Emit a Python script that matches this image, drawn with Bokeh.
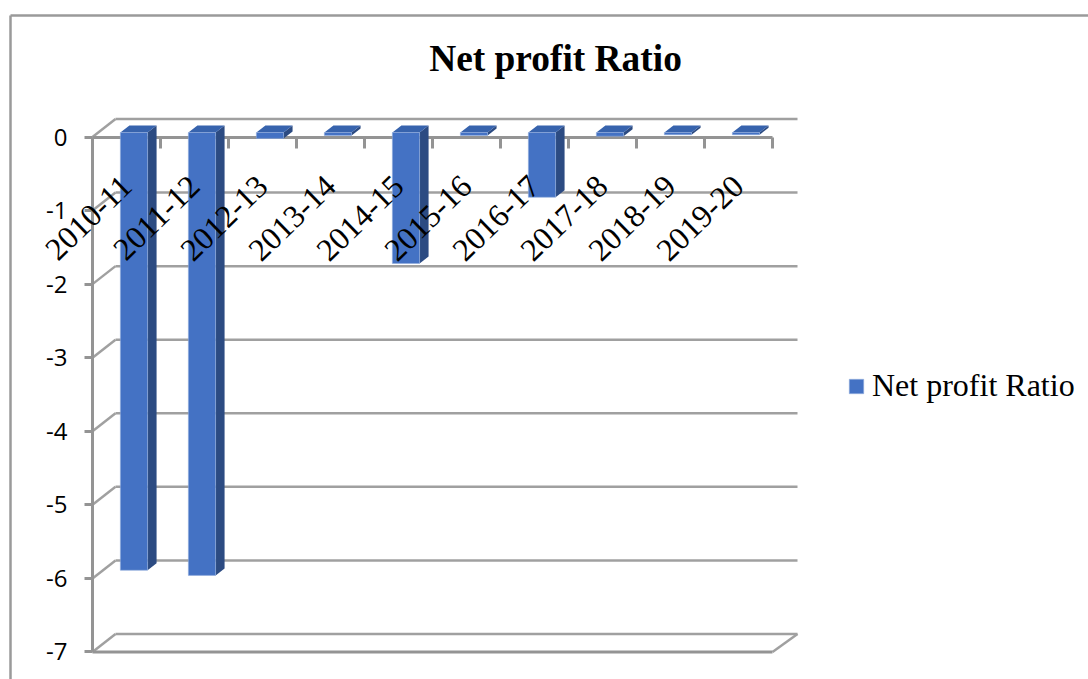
from bokeh.plotting import figure
from bokeh.models import (Range1d, LinearAxis, FixedTicker, Label, Legend, LegendItem)
from bokeh.embed import file_html
from bokeh.resources import INLINE

categories = ["2010-11", "2011-12", "2012-13", "2013-14", "2014-15",
              "2015-16", "2016-17", "2017-18", "2018-19", "2019-20"]
net_profit_ratio = [-5.95, -6.02, -0.08, -0.04, -1.78, -0.04, -0.88, -0.05, -0.03, -0.03]
y_ticks = [0, -1, -2, -3, -4, -5, -6, -7]
y_labels = ["0", "-1", "-2", "-3", "-4", "-5", "-6", "-7"]
series_name = "Net profit Ratio"
title_text = "Net profit Ratio"

W, H = 1088, 679
PX = 68.0      # px per category
PY = 73.57     # px per value unit
X0, Y0 = 92, 136.5   # position of the origin inside the canvas

def dx(px):
    return px / PX
def dy(px):
    return px / PY
def to_x(page_x):
    return (page_x - X0) / PX
def to_y(page_y):
    return -(page_y - Y0) / PY

p = figure(width=W, height=H, output_backend="svg", toolbar_location=None,
           x_axis_type=None, y_axis_type=None, tools="",
           x_range=Range1d(-X0 / PX, (W - X0) / PX),
           y_range=Range1d(-(H - Y0) / PY, Y0 / PY),
           min_border=0, min_border_left=0, min_border_right=0,
           min_border_top=0, min_border_bottom=0,
           background_fill_color="white", border_fill_color="white")
p.outline_line_color = None
p.grid.visible = False

GRID = "#a0a0a0"
AXIS = "#949494"

# outer chart frame
p.segment([to_x(10), to_x(10)], [to_y(15), to_y(15)], [to_x(10), to_x(1090)], [to_y(690), to_y(15)],
          line_color="#9a9a9a", line_width=2.5, level="underlay")

# back wall of the 3D box
n = len(categories)
back_x, back_y = dx(23), dy(18)
gy = [t + back_y for t in y_ticks]
p.segment([back_x] * len(gy), gy, [n + dx(25)] * len(gy), gy,
          line_color=GRID, line_width=2.5, level="underlay")
p.segment([0] * len(y_ticks), y_ticks, [back_x] * len(y_ticks), gy,
          line_color=GRID, line_width=2.5, level="underlay")
p.segment([n], [y_ticks[-1]], [n + dx(25)], [gy[-1]],
          line_color=GRID, line_width=2.5, level="underlay")
p.segment([0], [y_ticks[-1]], [n], [y_ticks[-1]],
          line_color=AXIS, line_width=3, level="underlay")

# bars
LEFT, RIGHT = 0.41, 0.81
shift = dy(4.5)
depth_x, depth_y = dx(9), dy(7)
lefts = [i + LEFT for i in range(n)]
rights = [i + RIGHT for i in range(n)]
tops = [shift] * n
bottoms = [v + shift for v in net_profit_ratio]

side_xs = [[r, r + depth_x, r + depth_x, r] for r in rights]
side_ys = [[t, t + depth_y, b + depth_y, b] for t, b in zip(tops, bottoms)]
top_xs = [[l, l + depth_x, r + depth_x, r] for l, r in zip(lefts, rights)]
top_ys = [[t, t + depth_y, t + depth_y, t] for t in tops]

p.patches(side_xs, side_ys, fill_color="#2c4b82", line_color=None)
p.patches(top_xs, top_ys, fill_color="#3763ad", line_color=None)
bars = p.quad(left=lefts, right=rights, top=tops, bottom=bottoms,
              fill_color="#4472c4", line_color="#8fabdc", line_width=0.6)

# axes
ax_y = LinearAxis(ticker=FixedTicker(ticks=y_ticks), fixed_location=0, bounds=(y_ticks[-1], y_ticks[0]))
ax_y.major_label_overrides = {t: s for t, s in zip(y_ticks, y_labels)}
ax_y.major_label_text_font = "Open Sans"
ax_y.major_label_text_font_size = "24px"
ax_y.major_label_text_color = "#000000"
ax_y.major_label_standoff = 17
ax_y.major_tick_out = 8
ax_y.major_tick_in = 0
ax_y.minor_tick_line_color = None
ax_y.axis_line_color = AXIS
ax_y.axis_line_width = 3
ax_y.major_tick_line_color = AXIS
ax_y.major_tick_line_width = 3
ax_y.level = "underlay"
p.add_layout(ax_y, "left")

ax_x = LinearAxis(ticker=FixedTicker(ticks=list(range(n + 1))), fixed_location=0, bounds=(0, n))
ax_x.major_label_text_font_size = "0px"
ax_x.major_label_text_color = None
ax_x.major_tick_out = 11
ax_x.major_tick_in = 0
ax_x.minor_tick_line_color = None
ax_x.axis_line_color = AXIS
ax_x.axis_line_width = 3
ax_x.major_tick_line_color = AXIS
ax_x.major_tick_line_width = 3
ax_x.level = "underlay"
p.add_layout(ax_x, "below")

centres = [i + 0.5 for i in range(n)]
ax_lab = LinearAxis(ticker=FixedTicker(ticks=centres), fixed_location=0)
ax_lab.major_label_overrides = {c: s for c, s in zip(centres, categories)}
ax_lab.major_label_orientation = 0.77
ax_lab.major_label_text_font = "Liberation Serif"
ax_lab.major_label_text_font_size = "32px"
ax_lab.major_label_text_color = "#000000"
ax_lab.major_label_standoff = 38
ax_lab.major_tick_line_color = None
ax_lab.minor_tick_line_color = None
ax_lab.axis_line_color = None
p.add_layout(ax_lab, "below")

# title
p.add_layout(Label(x=555, y=H - 58, x_units="screen", y_units="screen",
                   text=title_text, text_font="Liberation Serif", text_font_style="bold",
                   text_font_size="37.4px", text_color="#000000",
                   text_align="center", text_baseline="middle"))

# legend
legend = Legend(items=[LegendItem(label=series_name, renderers=[bars])],
                location=(847, H - 386 - 18), orientation="vertical",
                label_text_font="Liberation Serif", label_text_font_size="32px",
                label_text_color="#000000", glyph_width=18, glyph_height=18,
                label_standoff=7, padding=0, margin=0,
                border_line_color=None, background_fill_alpha=0)
p.add_layout(legend, "center")

open("out.html", "w").write(file_html(p, INLINE))
